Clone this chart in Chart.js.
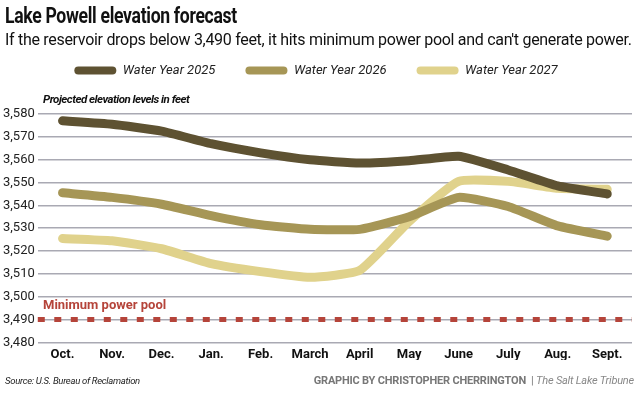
<!DOCTYPE html>
<html>
<head>
<meta charset="utf-8">
<script src="https://cdn.jsdelivr.net/npm/chart.js@4"></script>
<style>
  body { margin: 0; background: #fff; }
  #wrap { position: relative; width: 640px; height: 393px; overflow: hidden; font-family: Roboto, "Open Sans", sans-serif; }
  #chart { position: absolute; left: 0; top: 0; }
  .t { position: absolute; white-space: nowrap; }
  #title { left: 5px; top: 3px; font-size: 22px; font-weight: bold; color: #111; letter-spacing: -0.4px; transform: scaleX(0.8); transform-origin: left top; }
  #sub { left: 5px; top: 30px; font-size: 16px; color: #111; letter-spacing: -0.3px; }
  #ylab { left: 43px; top: 92px; font-size: 11.5px; font-weight: bold; font-style: italic; color: #111; letter-spacing: -0.5px; }
  #minpool { left: 43px; top: 297px; font-size: 13px; font-weight: bold; color: #b5443a; }
  #src { left: 5px; top: 375px; font-size: 9.5px; font-style: italic; color: #222; letter-spacing: -0.3px; }
  #credit { right: 6px; top: 374px; font-size: 11px; font-weight: bold; color: #777; letter-spacing: -0.2px; }
  #credit i { font-weight: normal; color: #888; }
</style>
</head>
<body>
<div id="wrap">
  <canvas id="chart" width="640" height="393"></canvas>
  <div class="t" id="title">Lake Powell elevation forecast</div>
  <div class="t" id="sub">If the reservoir drops below 3,490 feet, it hits minimum power pool and can't generate power.</div>
  <div class="t" id="ylab">Projected elevation levels in feet</div>
  <div class="t" id="minpool">Minimum power pool</div>
  <div class="t" id="src">Source: U.S. Bureau of Reclamation</div>
  <div class="t" id="credit">GRAPHIC BY CHRISTOPHER CHERRINGTON &nbsp;<span style="font-weight:normal">|</span> <i>The Salt Lake Tribune</i></div>
</div>
<script>
const months = ['Oct.', 'Nov.', 'Dec.', 'Jan.', 'Feb.', 'March', 'April', 'May', 'June', 'July', 'Aug.', 'Sept.'];
const wy2025 = [3577, 3575.5, 3572.5, 3567, 3563, 3560, 3558.5, 3559.5, 3561.5, 3555.5, 3548.5, 3545];
const wy2026 = [3545.5, 3543.5, 3540.5, 3535.5, 3531.5, 3529.5, 3529.5, 3535, 3543.5, 3539.5, 3531, 3526.5];
const wy2027 = [3525.5, 3524.5, 3521, 3514.5, 3511, 3508.5, 3511.5, 3533, 3550.5, 3550.5, 3547.5, 3547];
const minPowerPool = 3490;

const ctx = document.getElementById('chart');

// dashed red line at minimum power pool, across the whole plot
const minPoolLine = {
    id: 'minPoolLine',
    afterDatasetsDraw(chart) {
        const c = chart.ctx;
        const y = chart.scales.y.getPixelForValue(minPowerPool);
        const a = chart.chartArea;
        c.save();
        c.strokeStyle = '#b5443a';
        c.lineWidth = 5;
        c.setLineDash([7, 9.5]);
        c.beginPath();
        c.moveTo(a.left, y);
        c.lineTo(a.right, y);
        c.stroke();
        c.restore();
    }
};

// extra room under the legend
const legendGap = {
    id: 'legendGap',
    beforeInit(chart) {
        const fit = chart.legend.fit;
        chart.legend.fit = function () {
            fit.bind(chart.legend)();
            this.height += 27;
        };
    }
};

function line(label, data, color) {
    return {
        label: label,
        data: data,
        borderColor: color,
        backgroundColor: color,
        borderWidth: 9,
        borderCapStyle: 'round',
        borderJoinStyle: 'round',
        pointRadius: 0,
        tension: 0.15
    };
}

new Chart(ctx, {
    type: 'line',
    data: {
        labels: months,
        datasets: [
            line('Water Year 2025', wy2025, '#5e5232'),
            line('Water Year 2026', wy2026, '#a69656'),
            line('Water Year 2027', wy2027, '#e0d28c')
        ]
    },
    options: {
        responsive: false,
        animation: false,
        layout: { padding: { top: 34, right: 8, left: 0, bottom: 33 } },
        plugins: {
            legend: {
                labels: {
                    boxWidth: 42,
                    boxHeight: 8,
                    useBorderRadius: true,
                    borderRadius: 4,
                    padding: 30,
                    color: '#222',
                    font: { family: 'Roboto', size: 13, style: 'italic' },
                    generateLabels(chart) {
                        const items = Chart.defaults.plugins.legend.labels.generateLabels(chart);
                        items.forEach(it => { it.lineWidth = 0; });
                        return items;
                    }
                }
            },
            tooltip: { enabled: false }
        },
        scales: {
            x: {
                offset: true,
                grid: { display: false },
                border: { display: false },
                ticks: { color: '#111', font: { family: 'Roboto', size: 13, weight: 'bold' }, padding: -3 }
            },
            y: {
                min: 3480,
                max: 3580,
                ticks: {
                    stepSize: 10,
                    color: '#222',
                    padding: 3,
                    font: { family: 'Roboto', size: 13 },
                    callback: v => v.toLocaleString('en-US')
                },
                grid: { color: '#a9a9b3', lineWidth: 1.5, drawTicks: false },
                border: { display: false }
            }
        }
    },
    plugins: [minPoolLine, legendGap]
});
</script>
</body>
</html>
